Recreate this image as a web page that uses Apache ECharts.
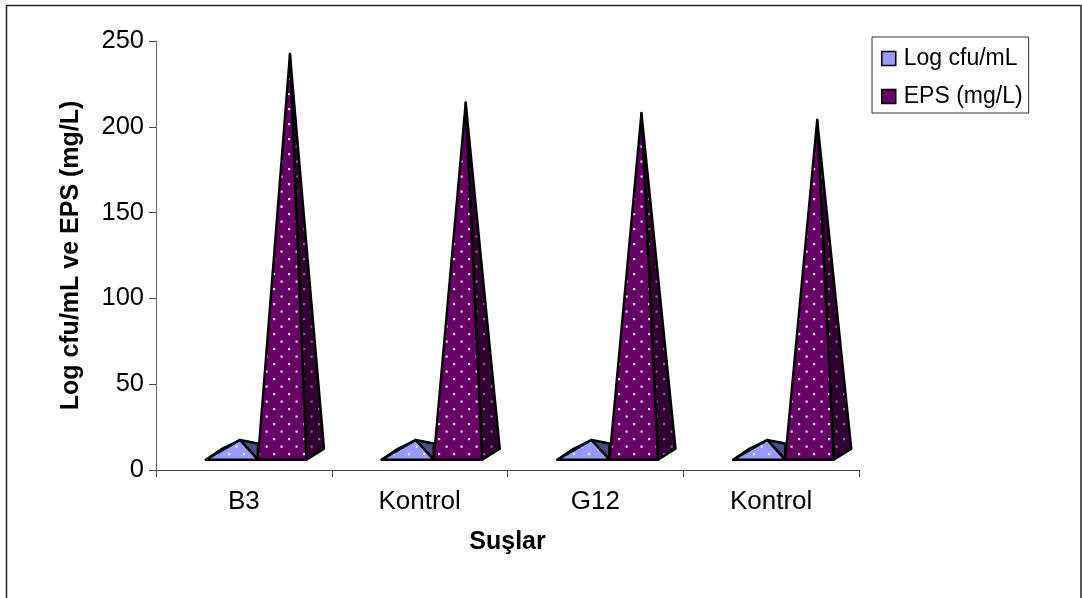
<!DOCTYPE html>
<html><head><meta charset="utf-8">
<style>html,body{margin:0;padding:0;background:#fff}#c{width:1082px;height:598px}</style>
<script src="https://cdn.jsdelivr.net/npm/echarts@6/dist/echarts.min.js"></script>
</head><body><div id="c"></div>
<script>
var categories = ['B3','Kontrol','G12','Kontrol'];
var logCfu = [17.5, 17.5, 17.5, 17.5];
var eps = [242.4, 214, 208, 204];
var yTicks = [0,50,100,150,200,250];
var seriesNames = ['Log cfu/mL','EPS (mg/L)'];
var floorValue = 6;

function dots(bg,dot){
  var c=document.createElement('canvas');c.width=15;c.height=15;
  var g=c.getContext('2d');g.fillStyle=bg;g.fillRect(0,0,15,15);
  g.fillStyle=dot;
  [[3,3],[10.5,10.5]].forEach(function(p){g.fillRect(p[0],p[1],2.2,2.2);});
  return {image:c,repeat:'repeat'};
}
var palette = {
  0:{front:dots('#9999ff','#e6e6ff'),side:'#4d4d80'},
  1:{front:dots('#660066','#f0dcf0'),side:dots('#330033','#8a6f8a')}
};
function pyramid(si){
  return function(params,api){
    var i=api.value(0), v=api.value(1);
    var center=api.coord([i,0])[0], band=api.size([1,0])[0];
    var base=api.coord([i,floorValue])[1], tip=api.coord([i,v])[1];
    var x0=center+band*(si===0?-0.216:0.08);
    var w=band*(si===0?0.296:0.276);
    var x1=x0+w;
    var dx=band*0.10, dy=11;
    var stroke={stroke:'#000',lineWidth:2.4,lineJoin:'round'};
    var kids=[];
    if(si===0){
      var ax=x0+w*0.654;
      kids.push({type:'polygon',shape:{points:[[x1,base],[ax,tip],[x1,tip+3.5]]},style:Object.assign({fill:palette[0].side},stroke)});
      kids.push({type:'polygon',shape:{points:[[x0,base],[x0+w*0.31,base-dy],[ax,tip],[x1,base]]},style:Object.assign({fill:'#000'},stroke)});
      kids.push({type:'polygon',shape:{points:[[x0,base],[ax,tip],[x1,base]]},style:Object.assign({fill:palette[0].front},stroke)});
    } else {
      var ax2=x0+w*0.66;
      kids.push({type:'polygon',shape:{points:[[x1,base],[x1+dx,base-dy],[ax2,tip]]},style:Object.assign({fill:palette[1].side},stroke)});
      kids.push({type:'polygon',shape:{points:[[x0,base],[ax2,tip],[x1,base]]},style:Object.assign({fill:palette[1].front},stroke)});
    }
    return {type:'group',children:kids};
  };
}
var chart=echarts.init(document.getElementById('c'),null,{renderer:'canvas'});
var font='"Liberation Sans",Arial,sans-serif';
chart.setOption({
  animation:false,
  backgroundColor:'#fff',
  graphic:[{type:'polyline',silent:true,z:10,shape:{points:[[6.5,600],[6.5,5.5],[1081,5.5],[1081,600]]},style:{fill:'none',stroke:'#222',lineWidth:1.5}}],
  grid:{left:156,right:223,top:41,bottom:128,containLabel:false},
  legend:{
    orient:'vertical',left:872,top:37,itemWidth:14,itemHeight:14,itemGap:15,
    padding:[10,6,5,9],borderColor:'#333',borderWidth:1,backgroundColor:'#fff',
    data:[
      {name:seriesNames[0],icon:'rect',itemStyle:{color:'#9999ff',borderColor:'#000',borderWidth:1.5}},
      {name:seriesNames[1],icon:'rect',itemStyle:{color:'#660066',borderColor:'#000',borderWidth:1.5}}
    ],
    textStyle:{fontFamily:font,fontSize:23,color:'#000',padding:[0,0,0,3]}
  },
  xAxis:{
    type:'category',data:categories,name:'Suşlar',nameLocation:'middle',nameGap:60,
    nameTextStyle:{fontFamily:font,fontSize:25,fontWeight:'bold',color:'#000'},
    axisLine:{lineStyle:{color:'#444',width:1}},
    axisTick:{show:true,alignWithLabel:false,length:7,lineStyle:{color:'#444'}},
    axisLabel:{fontFamily:font,fontSize:26,color:'#000',margin:19,interval:0}
  },
  yAxis:{
    type:'value',min:0,max:250,interval:50,name:'Log cfu/mL ve EPS (mg/L)',nameLocation:'middle',nameGap:72,
    nameTextStyle:{fontFamily:font,fontSize:25,fontWeight:'bold',color:'#000'},
    splitLine:{show:false},
    axisLine:{show:true,lineStyle:{color:'#666',width:1}},
    axisTick:{show:true,length:7,lineStyle:{color:'#444'}},
    axisLabel:{fontFamily:font,fontSize:25.5,color:'#000',margin:12,formatter:function(v){return yTicks.indexOf(v)>=0?String(v):'';}}
  },
  series:[
    {name:seriesNames[0],type:'custom',renderItem:pyramid(0),encode:{x:0,y:1},itemStyle:{color:'#9999ff'},
     data:logCfu.map(function(v,i){return [i,v];})},
    {name:seriesNames[1],type:'custom',renderItem:pyramid(1),encode:{x:0,y:1},itemStyle:{color:'#660066'},
     data:eps.map(function(v,i){return [i,v];})}
  ]
});
</script></body></html>
